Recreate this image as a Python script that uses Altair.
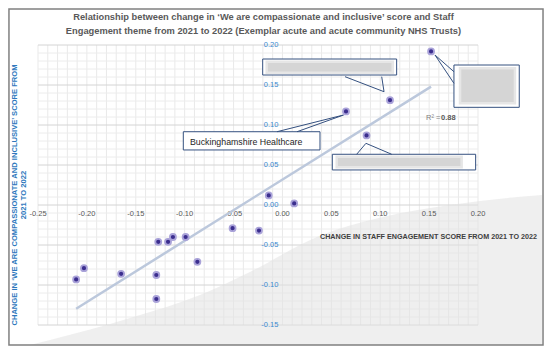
import altair as alt
import pandas as pd

# ---------------- data ----------------
engagement_change = [0.152, 0.110, 0.065, 0.086, -0.014, 0.012, -0.051, -0.024,
                     -0.127, -0.117, -0.112, -0.099, -0.087, -0.203, -0.211,
                     -0.165, -0.129, -0.129]
compassion_change = [0.192, 0.131, 0.117, 0.087, 0.012, 0.002, -0.029, -0.032,
                     -0.046, -0.046, -0.040, -0.040, -0.071, -0.079, -0.093,
                     -0.086, -0.0875, -0.1175]

x_tick_values = [-0.25, -0.20, -0.15, -0.10, -0.05, 0.00, 0.05, 0.10, 0.15, 0.20]
x_tick_labels = ["-0.25", "-0.20", "-0.15", "-0.10", "-0.05", "0.00", "0.05", "0.10", "0.15", "0.20"]
y_tick_values = [-0.15, -0.10, -0.05, 0.00, 0.05, 0.10, 0.15, 0.20]
y_tick_labels = ["-0.15", "-0.10", "-0.05", "0.00", "0.05", "0.10", "0.15", "0.20"]

title_lines = ["Relationship between change in \u2018We are compassionate and inclusive\u2019 score and Staff",
               "Engagement theme from 2021 to 2022 (Exemplar acute and acute community NHS Trusts)"]
x_title = "CHANGE IN STAFF ENGAGEMENT SCORE FROM 2021 TO 2022"
y_title_lines = ["CHANGE IN \u2018WE ARE COMPASSIONATE AND INCLUSIVE\u2019 SCORE FROM", "2021 TO 2022"]
named_trust = "Buckinghamshire Healthcare"
r2_text = "R\u00b2 = "
r2_value = "0.88"

x_domain = [-0.25, 0.20]
y_domain = [-0.15, 0.20]

# minor gridlines every 0.01
x_grid = [round(-0.25 + 0.01 * i, 2) for i in range(46)]
y_grid = [round(-0.15 + 0.01 * i, 2) for i in range(36)]

# ---------------- annotation geometry (data units) ----------------
box_x1 = [-0.0202, 0.1754, 0.0510, -0.1014]
box_x2 = [0.1168, 0.2422, 0.1976, 0.0384]
box_y1 = [0.1625, 0.1221, 0.0438, 0.0688]
box_y2 = [0.1825, 0.1750, 0.0634, 0.0916]

blur_x1 = [-0.0161, 0.1816, 0.0555]
blur_x2 = [0.1128, 0.2378, 0.1833]
blur_y1 = [0.1654, 0.1271, 0.0471]
blur_y2 = [0.1791, 0.1709, 0.0604]

tail_id = [1, 1, 1, 2, 2, 2, 3, 3, 3, 4, 4, 4]
tail_ord = [0, 1, 2, 0, 1, 2, 0, 1, 2, 0, 1, 2]
tail_x = [0.0640, 0.1039, 0.1015, 0.1754, 0.1560, 0.1754, 0.0759, 0.0854, 0.1117, -0.0056, 0.0625, 0.0149]
tail_y = [0.1604, 0.1416, 0.1604, 0.1666, 0.1875, 0.1521, 0.0634, 0.0771, 0.0634, 0.0916, 0.1125, 0.0916]

swoosh_x = [-0.2582, -0.2377, -0.1559, -0.0843, -0.0332, 0.0353, 0.1028, 0.1714, 0.2399, 0.2654]
swoosh_y = [-0.1750, -0.1688, -0.1413, -0.1125, -0.0838, -0.0400, -0.0150, 0.0000, 0.0100, 0.0125]

FONT = "Liberation Sans"
BLUE = "#3a8ad0"
BOX = "#34507f"

xs = alt.Scale(domain=x_domain, nice=False, zero=False)
ys = alt.Scale(domain=y_domain, nice=False, zero=False)


def X(f="x"):
    return alt.X(f + ":Q", scale=xs, axis=None)


def Y(f="y"):
    return alt.Y(f + ":Q", scale=ys, axis=None)


pts = pd.DataFrame({"x": engagement_change, "y": compassion_change})

vgrid = alt.Chart(pd.DataFrame({"x": x_grid})).mark_rule(
    color="#e9e9e9", strokeWidth=1).encode(x=X())
ygrid_df = pd.DataFrame({"y": y_grid,
                         "major": [round(v * 100) % 5 == 0 for v in y_grid]})
hgrid_minor = alt.Chart(ygrid_df).transform_filter("!datum.major").mark_rule(
    color="#ececec", strokeWidth=1).encode(y=Y())
hgrid_major = alt.Chart(ygrid_df).transform_filter("datum.major").mark_rule(
    color="#d4d4d4", strokeWidth=1).encode(y=Y())

swoosh = alt.Chart(pd.DataFrame({"x": swoosh_x, "y": swoosh_y})).mark_area(
    color="#e2e2e2", opacity=0.55, interpolate="monotone").encode(x=X(), y=Y(), y2=alt.Y2(datum=-0.175))

xlab = alt.Chart(pd.DataFrame({"x": x_tick_values, "y": [0.0] * len(x_tick_values), "t": x_tick_labels})).mark_text(
    font=FONT, fontSize=7.5, color="#595959", baseline="middle", align="center", dy=9).encode(x=X(), y=Y(), text="t:N")
ylab = alt.Chart(pd.DataFrame({"x": [0.0] * len(y_tick_values), "y": y_tick_values, "t": y_tick_labels})).mark_text(
    font=FONT, fontSize=7.5, color=BLUE, baseline="middle", align="right", dx=-4).encode(x=X(), y=Y(), text="t:N")

boxes = alt.Chart(pd.DataFrame({"x": box_x1, "x2": box_x2, "y": box_y1, "y2": box_y2})).mark_rect(
    fill="white", stroke=BOX, strokeWidth=1).encode(x=X(), x2="x2:Q", y=Y(), y2="y2:Q")
blurs = alt.Chart(pd.DataFrame({"x": blur_x1, "x2": blur_x2, "y": blur_y1, "y2": blur_y2})).mark_rect(
    fill="#d5d5d5", stroke="#e6e6e6", strokeWidth=2.5).encode(x=X(), x2="x2:Q", y=Y(), y2="y2:Q")
tails = alt.Chart(pd.DataFrame({"x": tail_x, "y": tail_y, "id": tail_id, "o": tail_ord})).mark_line(
    color=BOX, strokeWidth=1).encode(x=X(), y=Y(), detail="id:N", order="o:Q")

trend = alt.Chart(pts).transform_regression("x", "y").mark_line(
    color="#bcc8dc", strokeWidth=2.5).encode(x=X(), y=Y())

points = alt.Chart(pts).mark_circle(size=36, color="#3b2e8e", opacity=1,
                                    stroke="#aaa3d9", strokeWidth=1.8).encode(x=X(), y=Y())

title_df = pd.DataFrame({"x": [-0.0194, -0.0194], "y": [0.235, 0.2175], "t": title_lines})
title = alt.Chart(title_df).mark_text(font=FONT, fontSize=9.3, fontWeight="bold", color="#595959",
                                      align="center", baseline="middle").encode(x=X(), y=Y(), text="t:N")

ytitle_df = pd.DataFrame({"x": [-0.2735, -0.2643], "y": [0.0125, 0.0125], "t": y_title_lines})
ytitle = alt.Chart(ytitle_df).mark_text(font=FONT, fontSize=7.6, fontWeight="bold", color="#2e78bd",
                                        align="center", baseline="middle", angle=270).encode(x=X(), y=Y(), text="t:N")

xtitle = alt.Chart(pd.DataFrame({"x": [0.2603], "y": [-0.0396], "t": [x_title]})).mark_text(
    font=FONT, fontSize=7.2, fontWeight="bold", color="#404040", align="right", baseline="middle").encode(
    x=X(), y=Y(), text="t:N")

named = alt.Chart(pd.DataFrame({"x": [-0.0946], "y": [0.0791], "t": [named_trust]})).mark_text(
    font=FONT, fontSize=8.8, color="#262626", align="left", baseline="middle").encode(x=X(), y=Y(), text="t:N")

r2a = alt.Chart(pd.DataFrame({"x": [0.1468], "y": [0.1084], "t": [r2_text]})).mark_text(
    font=FONT, fontSize=7.5, color="#808080", align="left", baseline="middle").encode(x=X(), y=Y(), text="t:N")
r2b = alt.Chart(pd.DataFrame({"x": [0.1622], "y": [0.1084], "t": [r2_value]})).mark_text(
    font=FONT, fontSize=7.5, fontWeight="bold", color="#595959", align="left", baseline="middle").encode(
    x=X(), y=Y(), text="t:N")

frame = alt.Chart(pd.DataFrame({"x": [-0.2797], "x2": [0.2665], "y": [0.245], "y2": [-0.175]})).mark_rect(
    filled=False, stroke="#808080", strokeWidth=1.5).encode(x=X(), x2="x2:Q", y=Y(), y2="y2:Q")

chart = alt.layer(
    vgrid, hgrid_minor, hgrid_major, swoosh, xlab, ylab, boxes, blurs, tails, trend, points,
    title, ytitle, xtitle, named, r2a, r2b, frame
).properties(
    width=440, height=280,
    autosize=alt.AutoSizeParams(type="none"),
    padding={"left": 30, "top": 37, "right": 66, "bottom": 21},
    background="white",
).configure_view(stroke=None)

chart.save("out.html", embed_options={"renderer": "svg", "actions": False})
